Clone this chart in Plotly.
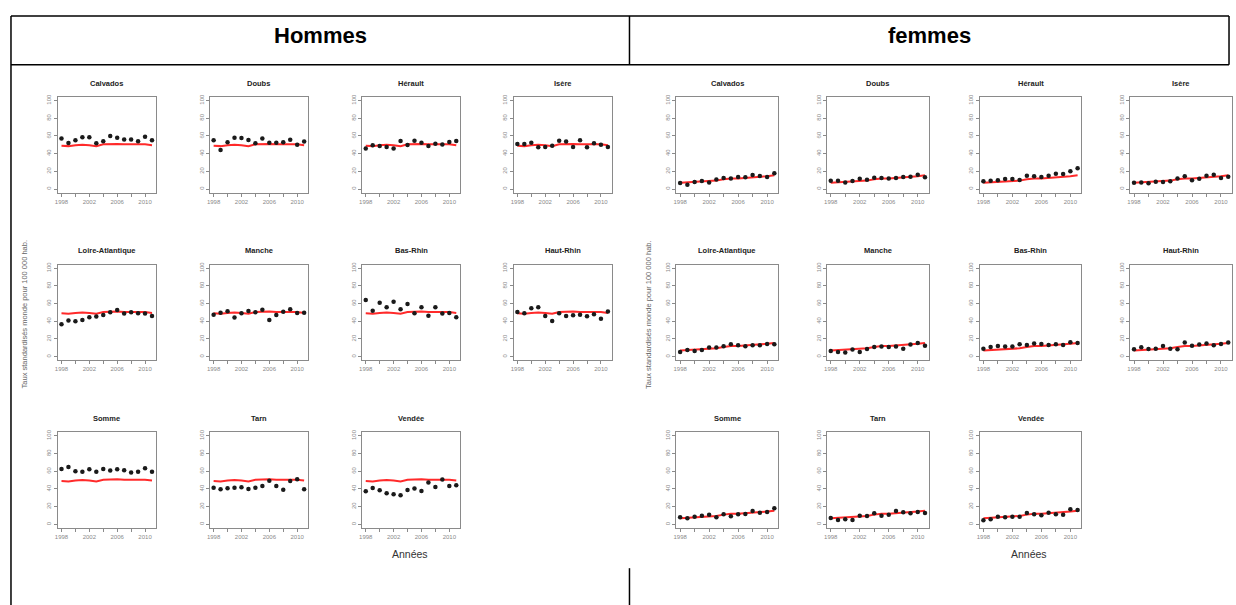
import plotly.graph_objects as go

# ---------------- data ----------------
years = list(range(1998, 2012))
departements = ["Calvados", "Doubs", "Hérault", "Isère", "Loire-Atlantique", "Manche",
                "Bas-Rhin", "Haut-Rhin", "Somme", "Tarn", "Vendée"]
x_tickvals = [1998, 2000, 2002, 2004, 2006, 2008, 2010]
x_ticktext = ["1998", "", "2002", "", "2006", "", "2010"]
y_tickvals = [0, 20, 40, 60, 80, 100]

# reference (red line) rates
ref_hommes = [49, 48.5, 49.5, 50, 49.5, 48.5, 50.5, 51, 51, 50.5, 50.5, 51, 50.5, 49.5]
ref_femmes = [7, 7.5, 8, 8.5, 9, 9.5, 11, 12, 12, 12.5, 13.5, 14, 14.5, 15.5]

# hommes observed rates
h_calvados = [57, 52, 55, 58.4, 58.4, 51.7, 54, 60, 58, 56, 56, 54, 59, 55]
h_doubs = [55, 44, 53, 58, 57.7, 55.4, 51.7, 57, 52.4, 52.4, 52.8, 55.8, 50, 53.6]
h_herault = [45.7, 49.4, 48.7, 47.6, 45.7, 54.3, 49.8, 54.7, 52.4, 48.7, 51.3, 50.2, 53.2, 54.3]
h_isere = [51, 51, 52.4, 47.2, 47.6, 49, 54.7, 53.6, 47.6, 55, 47.2, 51.7, 50, 47.6]
h_loire_atl = [36.6, 40.8, 40, 41.5, 44.5, 45.3, 47.2, 50.2, 52.8, 48.7, 50.2, 49, 48.7, 46]
h_manche = [47.5, 49.8, 51.3, 44.2, 49, 51.7, 50.2, 53.2, 41.5, 47.2, 50.9, 53.6, 49.4, 49.8]
h_bas_rhin = [64, 52, 61, 56, 62, 53.6, 59.6, 49, 55.8, 46.4, 55.8, 48.7, 49.4, 44.5]
h_haut_rhin = [50.6, 49, 54.7, 55.8, 46, 40.4, 49, 46, 46.8, 47.5, 45.7, 47.9, 43, 51]
h_somme = [62.6, 64.9, 60, 59.6, 62.3, 59.6, 62.6, 60.8, 62.3, 61.1, 58.5, 59.6, 63.4, 59.6]
h_tarn = [41.5, 39.6, 40.8, 41.5, 41.9, 40, 41.5, 43.4, 49.4, 43.4, 39.2, 49, 50.9, 39.6]
h_vendee = [37.4, 41.1, 38.5, 35.1, 34, 32.8, 38.9, 40.4, 37.7, 47.2, 42.3, 50.6, 43.4, 44.2]

# femmes observed rates
f_calvados = [6.8, 4.9, 7.9, 9, 7.5, 10.9, 12.5, 12, 13.6, 13.2, 15.8, 14.7, 13.6, 17.7]
f_doubs = [9.4, 9.4, 7.5, 9, 11.7, 10.6, 12.8, 12.5, 12, 12.5, 13.6, 14, 16.2, 13.2]
f_herault = [8.7, 9.4, 9.8, 11.3, 11.3, 10.2, 15.1, 14.3, 13.6, 15.1, 17.4, 17, 20, 23.4]
f_isere = [7.2, 7.5, 6.4, 8.3, 7.9, 8.7, 12, 14.3, 9.8, 11.7, 15.1, 16.2, 12.5, 14]
f_loire_atl = [5.3, 7.6, 6.5, 7.6, 10.3, 10.3, 11.8, 14, 12.9, 11.8, 12.9, 12.9, 14.4, 14]
f_manche = [6.5, 5.3, 4.6, 8, 5.3, 8.7, 11, 11.4, 11, 11.4, 9.1, 13.7, 15.6, 12.5]
f_bas_rhin = [9.1, 11, 12.2, 11.4, 11.4, 14, 13.3, 14.8, 14.4, 13.3, 14, 13.3, 16.3, 15.6]
f_haut_rhin = [8.4, 10.6, 8.7, 9.1, 12.2, 9.1, 8.4, 16, 12.5, 13.7, 14.8, 12.9, 14.4, 16]
f_somme = [7.9, 6.8, 8.7, 9.8, 10.9, 7.9, 11.3, 9.1, 11.3, 11.7, 15.1, 13.2, 14, 18.1]
f_tarn = [7.2, 4.9, 5.7, 4.9, 9.8, 9.4, 12.5, 9.8, 10.9, 15.1, 13.6, 12.5, 14, 12.8]
f_vendee = [4.5, 5.7, 8.7, 7.9, 8.7, 8.7, 12.8, 11.3, 10.2, 13.2, 11.3, 10.9, 17, 16.2]

hommes = [h_calvados, h_doubs, h_herault, h_isere, h_loire_atl, h_manche,
          h_bas_rhin, h_haut_rhin, h_somme, h_tarn, h_vendee]
femmes = [f_calvados, f_doubs, f_herault, f_isere, f_loire_atl, f_manche,
          f_bas_rhin, f_haut_rhin, f_somme, f_tarn, f_vendee]

# ---------------- layout ----------------
W, H = 1236, 605
FONT = "Liberation Sans, Arial, sans-serif"
AX_COL = "#8a8a8a"
LAB_COL = "#8a8a8a"

col_left = {"h": [55, 207.5, 360, 512], "f": [675, 826, 979, 1130]}
box_w = {"h": 98, "f": 102}
row_top = [94.5, 263, 431.5]
box_h = 96

fig = go.Figure()
annotations = []
layout_axes = {}

idx = 0
for sex, data, ref in (("h", hommes, ref_hommes), ("f", femmes, ref_femmes)):
    for k, name in enumerate(departements):
        idx += 1
        r, c = divmod(k, 4)
        x0 = col_left[sex][c]
        x1 = x0 + box_w[sex]
        yt = row_top[r]
        yb = yt + box_h
        xa = "x" if idx == 1 else f"x{idx}"
        ya = "y" if idx == 1 else f"y{idx}"
        fig.add_trace(go.Scatter(x=years, y=ref, mode="lines", xaxis=xa, yaxis=ya,
                                 line=dict(color="#ff2a2a", width=2), showlegend=False,
                                 hoverinfo="skip"))
        fig.add_trace(go.Scatter(x=years, y=data[k], mode="markers", xaxis=xa, yaxis=ya,
                                 marker=dict(color="#1a1a1a", size=4.5), showlegend=False))
        common = dict(showline=True, mirror=True, linecolor=AX_COL, linewidth=1,
                      ticks="outside", ticklen=3, tickwidth=1, tickcolor=AX_COL,
                      showgrid=False, zeroline=False, fixedrange=True,
                      tickfont=dict(family=FONT, size=6, color=LAB_COL))
        layout_axes["xaxis" if idx == 1 else f"xaxis{idx}"] = dict(
            common, domain=[x0 / W, x1 / W], anchor=ya, range=[1997.48, 2011.52],
            tickmode="array", tickvals=x_tickvals, ticktext=x_ticktext)
        layout_axes["yaxis" if idx == 1 else f"yaxis{idx}"] = dict(
            common, domain=[1 - yb / H, 1 - yt / H], anchor=xa, range=[-4, 104],
            tickmode="array", tickvals=y_tickvals, tickangle=-90)
        annotations.append(dict(x=(x0 + x1) / 2 / W, y=1 - (yt - 14) / H, xref="paper", yref="paper",
                                text=f"<b>{name}</b>", showarrow=False,
                                font=dict(family=FONT, size=7.5, color="#222222"),
                                xanchor="center", yanchor="middle"))

# header texts
for txt, xc in (("Hommes", 318), ("femmes", 929)):
    annotations.append(dict(x=xc / W, y=1 - 33 / H, xref="paper", yref="paper", text=f"<b>{txt}</b>",
                            showarrow=False, font=dict(family=FONT, size=22, color="#000000"),
                            xanchor="center", yanchor="middle"))

# "Années" labels
for xc in (408, 1028):
    annotations.append(dict(x=xc / W, y=1 - 554 / H, xref="paper", yref="paper", text="Années",
                            showarrow=False, font=dict(family=FONT, size=10.5, color="#333333"),
                            xanchor="center", yanchor="middle"))

# y axis titles
for xc in (21, 647):
    annotations.append(dict(x=xc / W, y=1 - 313 / H, xref="paper", yref="paper",
                            text="Taux standardisés monde pour 100 000 hab.", textangle=-90,
                            showarrow=False, font=dict(family=FONT, size=7.5, color="#666666"),
                            xanchor="center", yanchor="middle"))

# table borders
def hline(y, xa_, xb_):
    return dict(type="line", xref="paper", yref="paper", x0=xa_ / W, x1=xb_ / W,
                y0=1 - y / H, y1=1 - y / H, line=dict(color="#000000", width=1.5))

def vline(x, ya_, yb_):
    return dict(type="line", xref="paper", yref="paper", x0=x / W, x1=x / W,
                y0=1 - ya_ / H, y1=1 - yb_ / H, line=dict(color="#000000", width=1.5))

shapes = [hline(13, 8, 1229), hline(62, 8, 1229),
          vline(8, 13, 605), vline(628, 13, 62), vline(1229, 13, 62), vline(628, 568, 605)]

fig.update_layout(width=W, height=H, margin=dict(l=0, r=0, t=0, b=0),
                  paper_bgcolor="white", plot_bgcolor="white",
                  annotations=annotations, shapes=shapes, **layout_axes)

fig.write_html("out.html")
